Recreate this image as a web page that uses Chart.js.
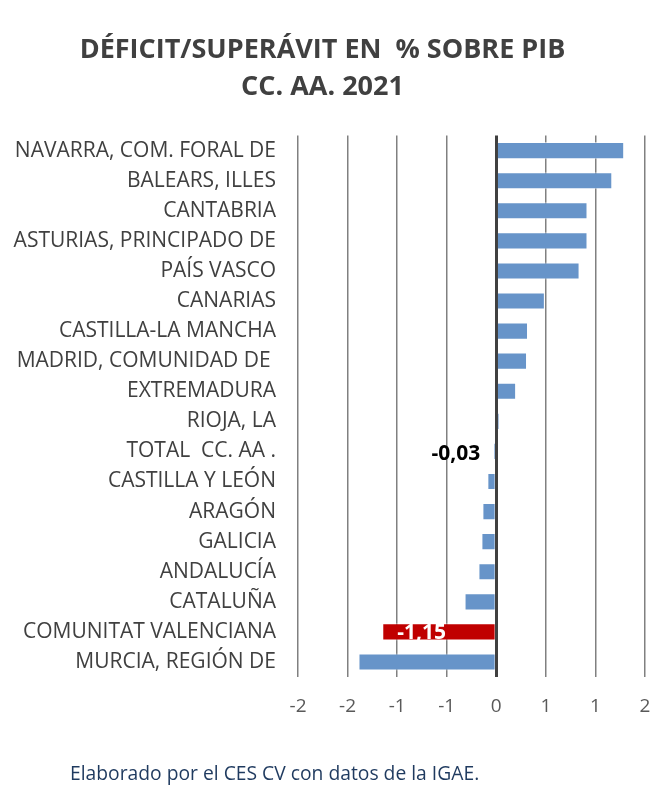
<!DOCTYPE html>
<html>
<head>
<meta charset="utf-8">
<script src="https://cdn.jsdelivr.net/npm/chart.js@4"></script>
<style>
  body { margin: 0; background: #fff; }
  #wrap { position: relative; width: 657px; height: 791px; }
  #footer {
    position: absolute; left: 70px; top: 759px;
    font: 19.3px 'Open Sans', sans-serif; color: #1f3a5f;
  }
</style>
</head>
<body>
<div id="wrap">
  <canvas id="myChart" width="657" height="791"></canvas>
  <div id="footer">Elaborado por el CES CV con datos de la IGAE.</div>
</div>
<script>
const regions = [
  "NAVARRA, COM. FORAL DE",
  "BALEARS, ILLES",
  "CANTABRIA",
  "ASTURIAS, PRINCIPADO DE",
  "PAÍS VASCO",
  "CANARIAS",
  "CASTILLA-LA MANCHA",
  "MADRID, COMUNIDAD DE ",
  "EXTREMADURA",
  "RIOJA, LA",
  "TOTAL  CC. AA .",
  "CASTILLA Y LEÓN",
  "ARAGÓN",
  "GALICIA",
  "ANDALUCÍA",
  "CATALUÑA",
  "COMUNITAT VALENCIANA",
  "MURCIA, REGIÓN DE"
];
const saldo = [1.29, 1.17, 0.92, 0.92, 0.84, 0.49, 0.32, 0.31, 0.20, 0.03,
  -0.03, -0.09, -0.14, -0.15, -0.18, -0.32, -1.15, -1.39];
const shownLabels = [null, null, null, null, null, null, null, null, null, null,
  "-0,03", null, null, null, null, null, "-1,15", null];

const blue = "#6794c9";
const red = "#c00000";
const barColors = regions.map((r) => r === "COMUNITAT VALENCIANA" ? red : blue);

// labels next to / inside the two highlighted bars
const valueLabels = {
  id: "valueLabels",
  afterDatasetsDraw(chart) {
    const c = chart.ctx;
    const meta = chart.getDatasetMeta(0);
    c.save();
    c.font = "bold 21px 'Open Sans', sans-serif";
    c.textBaseline = "middle";
    meta.data.forEach((bar, i) => {
      const txt = shownLabels[i];
      if (!txt) return;
      if (Math.abs(bar.x - bar.base) > 40) {
        c.fillStyle = "#fff";
        c.textAlign = "center";
        c.fillText(txt, (bar.x + bar.base) / 2 - 17, bar.y + 1);
      } else {
        c.fillStyle = "#000";
        c.textAlign = "right";
        c.fillText(txt, bar.x - 13, bar.y + 3);
      }
    });
    c.restore();
  }
};

Chart.defaults.font.family = "'Open Sans', sans-serif";

const myChart = new Chart(document.getElementById("myChart"), {
  type: "bar",
  plugins: [valueLabels],
  data: {
    labels: regions,
    datasets: [{
      label: "Déficit/Superávit",
      data: saldo,
      backgroundColor: barColors,
      borderColor: "rgba(255,255,255,0.55)",
      borderWidth: 1,
      categoryPercentage: 1,
      barPercentage: 0.57
    }]
  },
  options: {
    indexAxis: "y",
    responsive: false,
    animation: false,
    layout: { padding: { left: 0, right: 12, top: 0, bottom: 0 } },
    plugins: {
      legend: { display: false },
      tooltip: { enabled: false },
      title: {
        display: true,
        text: ["DÉFICIT/SUPERÁVIT EN  % SOBRE PIB", "CC. AA. 2021"],
        color: "#404040",
        font: { size: 27, weight: "bold", lineHeight: 1.4 },
        padding: { top: 31, bottom: 29 }
      }
    },
    scales: {
      x: {
        min: -2,
        max: 1.5,
        border: { display: false },
        ticks: {
          stepSize: 0.5,
          color: "#595959",
          font: { size: 19 },
          padding: 18,
          callback: (v) => String(Math.sign(v) * Math.round(Math.abs(v)))
        },
        grid: {
          drawTicks: false,
          color: (ctx) => ctx.tick && ctx.tick.value === 0 ? "#404040" : "#808080",
          lineWidth: (ctx) => ctx.tick && ctx.tick.value === 0 ? 3 : 1.5
        },
        afterFit: (s) => { s.height = 114; s.paddingLeft = 0; s.paddingRight = 0; }
      },
      y: {
        border: { display: false },
        grid: { display: false, drawTicks: false },
        ticks: {
          autoSkip: false,
          color: "#404040",
          font: { size: 21 },
          padding: 22
        },
        afterFit: (s) => { s.width = 298; }
      }
    }
  }
});
</script>
</body>
</html>
